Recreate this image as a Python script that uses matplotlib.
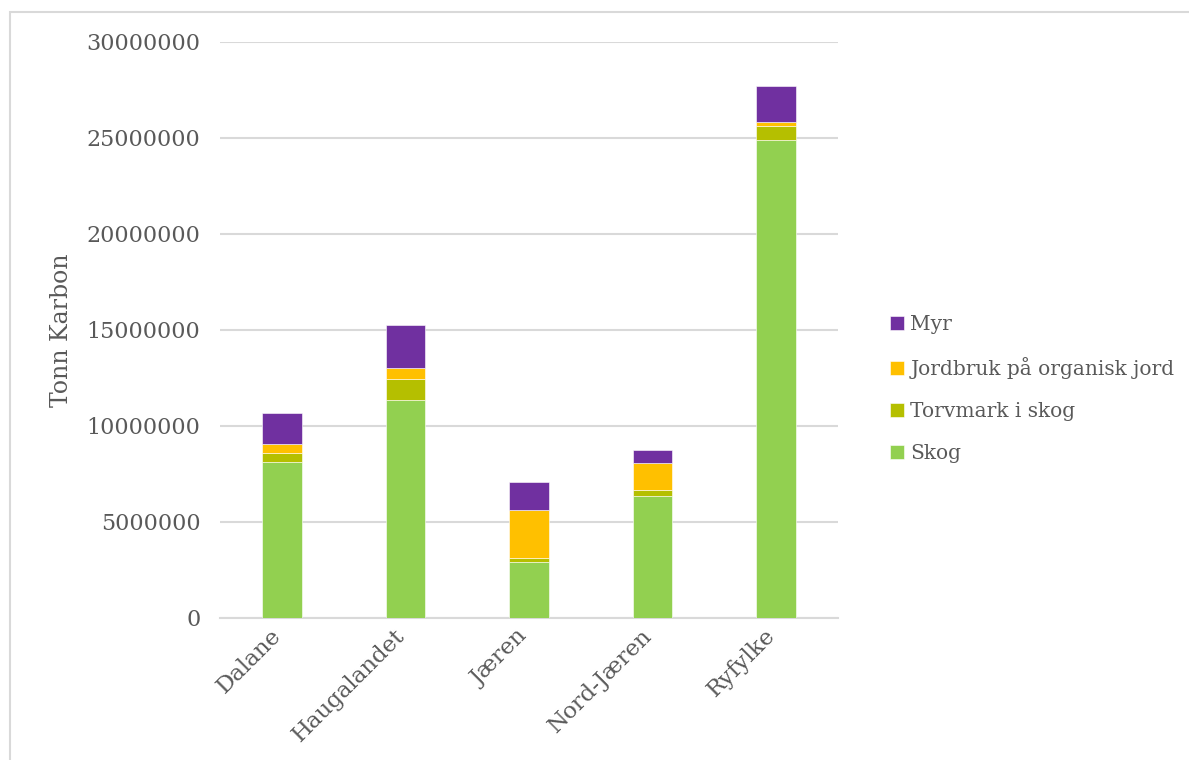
import matplotlib
matplotlib.use("Agg")
import matplotlib.pyplot as plt
from matplotlib.patches import Rectangle
from matplotlib.transforms import ScaledTranslation
import numpy as np

categories = ["Dalane", "Haugalandet", "Jæren", "Nord-Jæren", "Ryfylke"]
skog = [8100000, 11380000, 2910000, 6330000, 24890000]
torvmark = [470000, 1060000, 220000, 340000, 740000]
jordbruk = [470000, 570000, 2470000, 1390000, 210000]
myr = [1660000, 2230000, 1490000, 680000, 1890000]

series_names = ["Skog", "Torvmark i skog", "Jordbruk på organisk jord", "Myr"]
series_vals = [skog, torvmark, jordbruk, myr]
colors = ["#92D050", "#B5BF00", "#FFC000", "#7030A0"]

font = "DejaVu Serif"
tc = "#595959"

fig = plt.figure(figsize=(11.89, 7.6), dpi=100)
fig.patches.append(Rectangle((10/1189, -0.1), 1.2, (760-12)/760 + 0.1, transform=fig.transFigure,
                             fill=False, edgecolor="#D9D9D9", linewidth=1.5))
ax = fig.add_axes([220/1189, 1-618/760, (838-220)/1189, (618-42)/760])

x = np.arange(len(categories))
bottom = np.zeros(len(categories))
handles = []
for name, vals, c in zip(series_names, series_vals, colors):
    h = ax.bar(x, vals, width=0.32, bottom=bottom, color=c, edgecolor="white",
               linewidth=0.4, label=name, zorder=3)
    handles.append(h)
    bottom += np.array(vals)

ax.set_xlim(-0.5, 4.5)
ax.set_ylim(0, 30000000)
ax.set_yticks(np.arange(0, 30000001, 5000000))
ax.set_yticklabels([str(v) for v in range(0, 30000001, 5000000)], fontfamily=font,
                   fontsize=16, color=tc)
ax.yaxis.grid(True, color="#D9D9D9", linewidth=1.5, zorder=0)
ax.tick_params(axis="y", length=0, pad=14)
ax.tick_params(axis="x", length=0, pad=5)
ax.set_xticks(x)
ax.set_xticklabels(categories, rotation=45, ha="right", rotation_mode="anchor",
                   fontfamily=font, fontsize=16.5, color=tc)
off = ScaledTranslation(-12/100, 0, fig.dpi_scale_trans)
for lbl in ax.get_xticklabels():
    lbl.set_transform(lbl.get_transform() + off)
for s in ["top", "right", "left"]:
    ax.spines[s].set_visible(False)
ax.spines["bottom"].set_color("#D9D9D9")
ax.spines["bottom"].set_linewidth(1.5)
ax.set_ylabel("Tonn Karbon", fontfamily=font, fontsize=17, color=tc, labelpad=10)

leg = fig.legend(handles[::-1], series_names[::-1], loc="center left",
                 bbox_to_anchor=(872/1189, 1-389/760), frameon=False,
                 prop={"family": font, "size": 14.5}, labelcolor=tc,
                 handlelength=0.7, handleheight=0.7, handletextpad=0.3,
                 labelspacing=1.15)

fig.savefig("out.png", dpi=100)
